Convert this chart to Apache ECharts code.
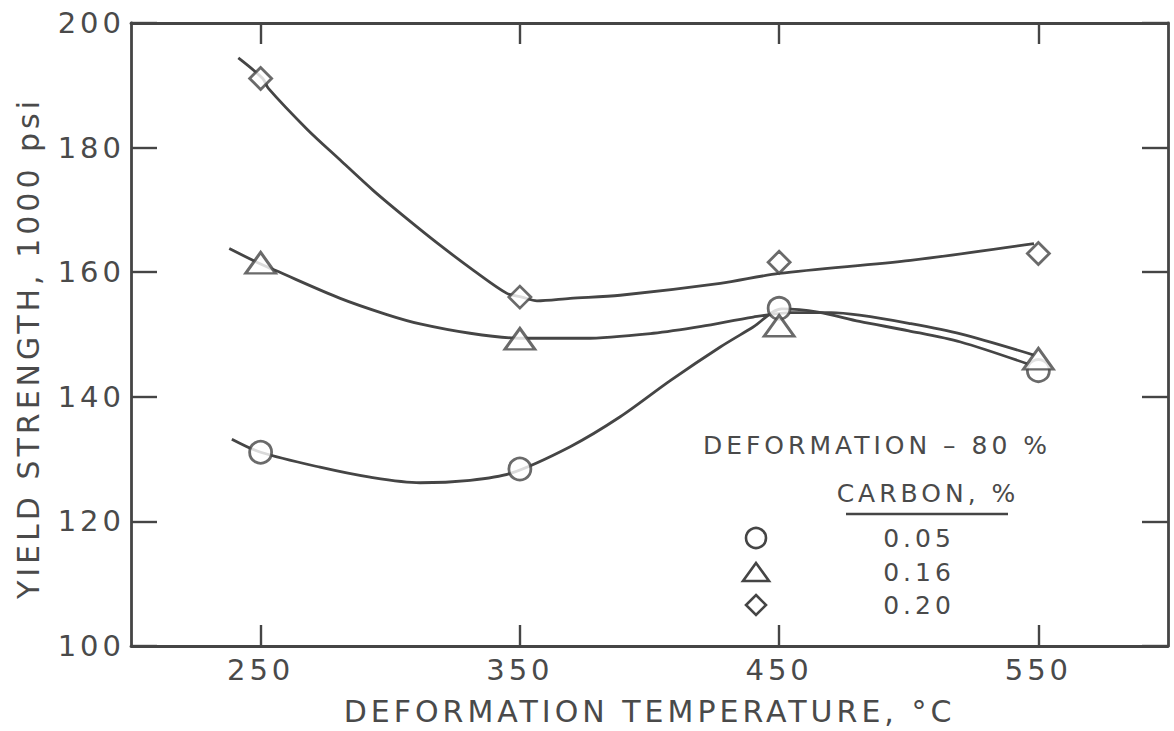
<!DOCTYPE html>
<html>
<head>
<meta charset="utf-8">
<script src="https://cdn.jsdelivr.net/npm/echarts@6/dist/echarts.min.js"></script>
<style>
  html, body { margin: 0; padding: 0; background: #ffffff; }
  #chart { width: 1174px; height: 731px; }
  #chart text { letter-spacing: 4px; }
</style>
</head>
<body>
<div id="chart"></div>
<script>
// ---- data ----
const xTicks = [250, 350, 450, 550];
const temps = [250, 350, 450, 550];
const ys005 = [131.1, 128.4, 154.2, 144.2];
const ys016 = [161.5, 149.3, 151.4, 146.1];
const ys020 = [191.1, 156.0, 161.6, 163.0];

// hand-drawn fitted curves
const curve005X = [238.9, 250, 272.9, 292.2, 311.5, 330.8, 346.3, 369.4, 388.7, 408, 427.3, 440, 451, 465, 481, 500, 520, 545.7];
const curve005Y = [133.2, 131.1, 128.7, 127.1, 126.2, 126.6, 127.7, 132.0, 136.8, 142.6, 148.0, 151.2, 154.1, 153.6, 152.1, 150.6, 148.8, 145.3];
const curve016X = [237.9, 250, 255.6, 280.7, 298.7, 311.5, 330.8, 350, 375, 401.5, 420, 440, 455, 470, 481, 500, 520, 548.3];
const curve016Y = [163.8, 161.3, 160.3, 155.8, 153.2, 151.7, 150.2, 149.4, 149.4, 150.2, 151.3, 152.8, 153.5, 153.5, 153.1, 151.8, 150.1, 146.7];
const curve020X = [241.4, 250.8, 253.0, 267.8, 280.7, 293.5, 306.4, 319.3, 332.1, 345.0, 350.8, 356.6, 369.4, 388.7, 427.3, 450, 500.7, 548.3];
const curve020Y = [194.4, 191.1, 189.5, 183.0, 178.0, 173.1, 168.6, 164.3, 160.3, 156.6, 156.0, 155.4, 155.8, 156.3, 158.2, 159.8, 161.9, 164.6];

const seriesNames = ['0.05', '0.16', '0.20'];
const legendTitle = 'DEFORMATION – 80 %';
const legendHeader = 'CARBON, %';
const xName = 'DEFORMATION TEMPERATURE, °C';
const yName = 'YIELD STRENGTH, 1000 psi';

// ---- styling ----
const INK = '#454545';
const TXT = '#4a4a4a';
const FONT = 'DejaVu Sans';

const zip = (a, b) => a.map((v, i) => [v, b[i]]);

function curveSeries(xs, ys) {
  return {
    type: 'line', data: zip(xs, ys), smooth: 0.3, showSymbol: false, symbol: 'none',
    lineStyle: { color: INK, width: 2.8 }, z: 2, silent: true
  };
}
function markerSeries(name, ys, symbol, size) {
  return {
    type: 'scatter', name: name, data: zip(temps, ys), symbol: symbol, symbolSize: size,
    itemStyle: { color: '#ffffff', borderColor: INK, borderWidth: 2.8 }, z: 5
  };
}

const axisLine = { show: true, lineStyle: { color: INK, width: 2.8 } };

const chart = echarts.init(document.getElementById('chart'), null, { renderer: 'svg' });
chart.setOption({
  animation: false,
  backgroundColor: '#ffffff',
  textStyle: { fontFamily: FONT, color: TXT },
  grid: { left: 131, top: 23, right: 6, bottom: 85 },
  xAxis: [
    {
      type: 'value', min: 200, max: 600, position: 'bottom',
      axisLine: axisLine,
      axisTick: { show: true, inside: true, length: 21, customValues: xTicks, lineStyle: { color: INK, width: 2.4 } },
      axisLabel: { customValues: xTicks, fontSize: 29, color: TXT, margin: 9, fontFamily: FONT },
      splitLine: { show: false },
      name: xName, nameLocation: 'middle', nameGap: 50,
      nameTextStyle: { fontSize: 30, color: TXT, fontFamily: FONT }
    },
    {
      type: 'value', min: 200, max: 600, position: 'top',
      axisLine: axisLine,
      axisTick: { show: true, inside: true, length: 21, customValues: xTicks, lineStyle: { color: INK, width: 2.4 } },
      axisLabel: { show: false },
      splitLine: { show: false }
    }
  ],
  yAxis: [
    {
      type: 'value', min: 100, max: 200, interval: 20, position: 'left',
      axisLine: axisLine,
      axisTick: { show: true, inside: true, length: 26, lineStyle: { color: INK, width: 2.4 } },
      axisLabel: { fontSize: 29, color: TXT, margin: 6, fontFamily: FONT },
      splitLine: { show: false },
      name: yName, nameLocation: 'middle', nameGap: 88,
      nameTextStyle: { fontSize: 30, color: TXT, fontFamily: FONT, padding: [0, 27, 0, 0] }
    },
    {
      type: 'value', min: 100, max: 200, interval: 20, position: 'right',
      axisLine: axisLine,
      axisTick: { show: true, inside: true, length: 26, lineStyle: { color: INK, width: 2.4 } },
      axisLabel: { show: false },
      splitLine: { show: false }
    }
  ],
  series: [
    curveSeries(curve005X, curve005Y),
    curveSeries(curve016X, curve016Y),
    curveSeries(curve020X, curve020Y),
    markerSeries(seriesNames[0], ys005, 'circle', 22),
    markerSeries(seriesNames[1], ys016, 'triangle', [30, 21]),
    markerSeries(seriesNames[2], ys020, 'diamond', [22, 22])
  ],
  graphic: [
    { type: 'text', style: { text: legendTitle, x: 877, y: 445, align: 'center', verticalAlign: 'middle', fontSize: 25, fontFamily: FONT, fill: TXT } },
    { type: 'text', style: { text: legendHeader, x: 928, y: 493, align: 'center', verticalAlign: 'middle', fontSize: 25, fontFamily: FONT, fill: TXT } },
    { type: 'line', shape: { x1: 846, y1: 514, x2: 1008, y2: 514 }, style: { stroke: INK, lineWidth: 2.6 } },
    { type: 'circle', shape: { cx: 756, cy: 538, r: 10 }, style: { fill: '#ffffff', stroke: INK, lineWidth: 2.6 } },
    { type: 'polygon', shape: { points: [[756, 563], [769, 581], [743, 581]] }, style: { fill: '#ffffff', stroke: INK, lineWidth: 2.6 } },
    { type: 'polygon', shape: { points: [[756, 595], [766, 605], [756, 615], [746, 605]] }, style: { fill: '#ffffff', stroke: INK, lineWidth: 2.6 } },
    { type: 'text', style: { text: seriesNames[0], x: 919, y: 538, align: 'center', verticalAlign: 'middle', fontSize: 25, fontFamily: FONT, fill: TXT } },
    { type: 'text', style: { text: seriesNames[1], x: 919, y: 572, align: 'center', verticalAlign: 'middle', fontSize: 25, fontFamily: FONT, fill: TXT } },
    { type: 'text', style: { text: seriesNames[2], x: 919, y: 605, align: 'center', verticalAlign: 'middle', fontSize: 25, fontFamily: FONT, fill: TXT } }
  ]
});
</script>
</body>
</html>
